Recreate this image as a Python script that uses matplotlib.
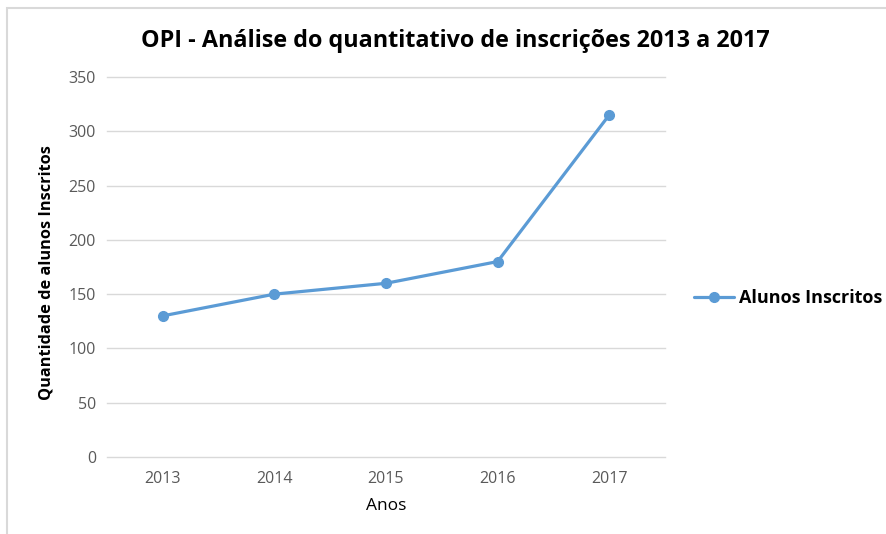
import matplotlib.pyplot as plt
from matplotlib.patches import Rectangle

# data
anos = ['2013', '2014', '2015', '2016', '2017']
inscritos = [130, 150, 160, 180, 315]
y_ticks = [0, 50, 100, 150, 200, 250, 300, 350]

plt.rcParams['font.family'] = ['Open Sans', 'DejaVu Sans']

fig = plt.figure(figsize=(8.87, 5.34), dpi=100)
ax = fig.add_axes([107/887, 1-457/534, (665-107)/887, (457-77)/534])

x = list(range(len(anos)))
ax.plot(x, inscritos, color='#5B9BD5', lw=2.3, marker='o', ms=7,
        label='Alunos Inscritos', solid_capstyle='round')

ax.set_xlim(-0.5, len(anos) - 0.5)
ax.set_ylim(0, 350)
ax.set_xticks(x)
ax.set_xticklabels(anos)
ax.set_yticks(y_ticks)
ax.tick_params(length=0, labelsize=11.5, colors='#595959', pad=8)
ax.tick_params(axis='x', pad=10)
ax.grid(axis='y', color='#D9D9D9', lw=1)
for gl in ax.get_ygridlines():
    gl.set_clip_on(False)
ax.set_axisbelow(True)
for s in ax.spines.values():
    s.set_visible(False)

ax.set_xlabel('Anos', fontsize=12.5, color='black', labelpad=8)
ax.set_ylabel('Quantidade de alunos Inscritos', fontsize=11.8, fontweight='bold')
ax.yaxis.set_label_coords(-0.094, 0.485)
fig.text(455/887, 1-41/534, 'OPI - Análise do quantitativo de inscrições 2013 a 2017',
         ha='center', va='center', fontsize=16.8, fontweight='bold')

leg = fig.legend(loc='center left', bbox_to_anchor=(694/887, 1-298/534), frameon=False,
                 prop={'weight': 'bold', 'size': 13}, handlelength=2.2,
                 handletextpad=0.3, borderaxespad=0, borderpad=0)

# chart border (top and left visible)
fig.patches.append(Rectangle((7/887, -0.1), 1.2, 1-8/534+0.1, transform=fig.transFigure,
                             fill=False, edgecolor='#D9D9D9', lw=1.5))

fig.savefig('out.png', dpi=100)
